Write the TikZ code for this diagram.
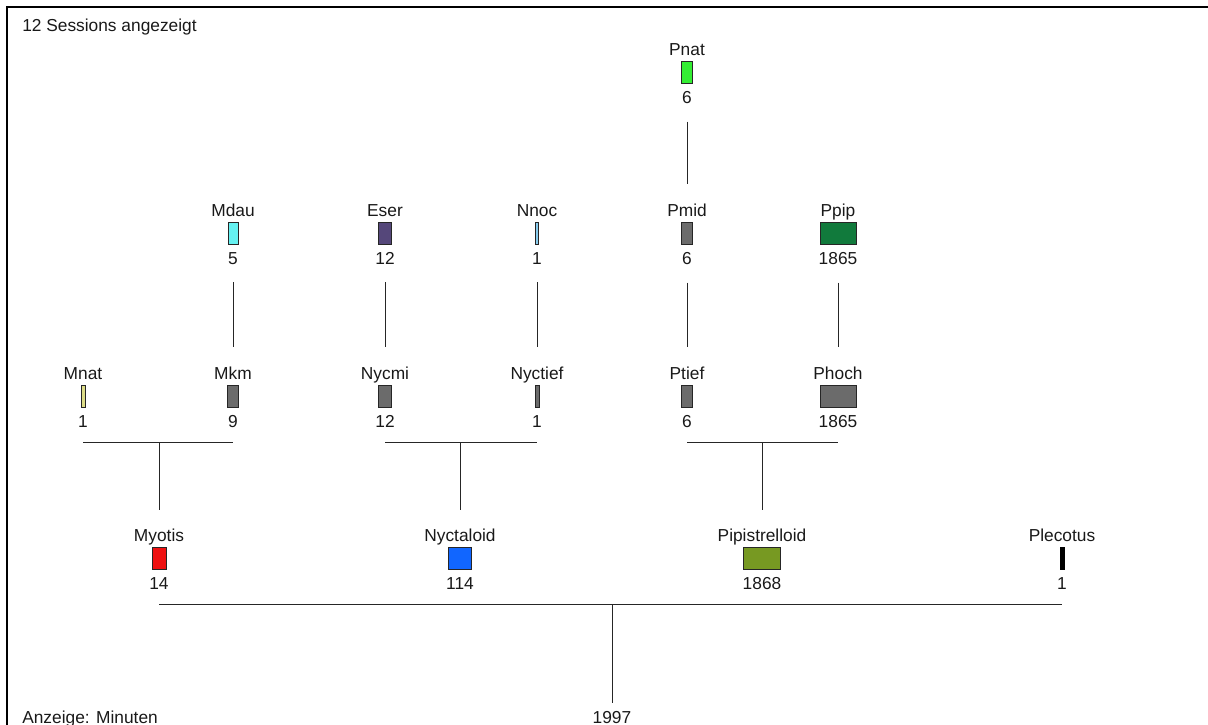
\documentclass[tikz,border=0pt]{standalone}
\usepackage{fontspec}
\setmainfont{Liberation Sans}
\usetikzlibrary{positioning,calc}

\definecolor{cpnat}{HTML}{33EE33}
\definecolor{cmdau}{HTML}{66F2F2}
\definecolor{ceser}{HTML}{55477A}
\definecolor{cnnoc}{HTML}{88CCEE}
\definecolor{cgrey}{HTML}{6B6B6B}
\definecolor{cppip}{HTML}{117A3C}
\definecolor{cmnat}{HTML}{DDDD88}
\definecolor{cmyo}{HTML}{EE1111}
\definecolor{cnyc}{HTML}{1166FF}
\definecolor{cpip}{HTML}{779922}

\tikzstyle{sp} = [rectangle, draw=black!85, line width=0.6pt, inner sep=0pt,
    minimum height=16.5pt]
\tikzstyle{nm} = [inner sep=0pt, text depth=0pt, text=black!90,
    font=\fontsize{13}{15}\selectfont]
\tikzstyle{cnt} = [inner sep=0pt, text=black!90, font=\fontsize{13}{15}\selectfont]
\tikzstyle{link} = [draw=black!85, line width=0.75pt]

\begin{document}
\begin{tikzpicture}[x=0.75pt,y=-0.75pt]
  \useasboundingbox (0,0) rectangle (1208,725);
  \draw[line width=1.2pt] (7,725) -- (7,7) -- (1208,7);

  \node[nm, anchor=base west] (title) at (22,31) {12 Sessions angezeigt};
  \node[nm, anchor=base west] (unit) at (22,723) {Anzeige: Minuten};

  % top
  \node[sp, fill=cpnat, minimum width=8.25pt] (pnat) at (687,72) {};
  \node[nm]  (pnat-l) [above=3.5pt of pnat] {Pnat};
  \node[cnt] (pnat-n) [below=6pt of pnat] {6};

  % second row
  \node[sp, fill=cmdau, minimum width=7.5pt]  (mdau) at (233,233) {};
  \node[sp, fill=ceser, minimum width=9.75pt] (eser) at (385,233) {};
  \node[sp, fill=cnnoc, minimum width=2.25pt] (nnoc) at (537,233) {};
  \node[sp, fill=cgrey, minimum width=8.25pt] (pmid) at (687,233) {};
  \node[sp, fill=cppip, minimum width=27pt]   (ppip) at (838,233) {};
  \node[nm] (mdau-l) [above=3.5pt of mdau] {Mdau};
  \node[nm] (eser-l) [above=3.5pt of eser] {Eser};
  \node[nm] (nnoc-l) [above=3.5pt of nnoc] {Nnoc};
  \node[nm] (pmid-l) [above=3.5pt of pmid] {Pmid};
  \node[nm] (ppip-l) [above=3.5pt of ppip] {Ppip};
  \node[cnt] (mdau-n) [below=6pt of mdau] {5};
  \node[cnt] (eser-n) [below=6pt of eser] {12};
  \node[cnt] (nnoc-n) [below=6pt of nnoc] {1};
  \node[cnt] (pmid-n) [below=6pt of pmid] {6};
  \node[cnt] (ppip-n) [below=6pt of ppip] {1865};

  % third row
  \node[sp, fill=cmnat, minimum width=3pt]    (mnat) at (83,396) {};
  \node[sp, fill=cgrey, minimum width=8.25pt] (mkm) at (233,396) {};
  \node[sp, fill=cgrey, minimum width=9.75pt] (nycmi) at (385,396) {};
  \node[sp, fill=cgrey, minimum width=3pt]    (nyctief) at (537,396) {};
  \node[sp, fill=cgrey, minimum width=8.25pt] (ptief) at (687,396) {};
  \node[sp, fill=cgrey, minimum width=27pt]   (phoch) at (838,396) {};
  \node[nm] (mnat-l) [above=3.5pt of mnat] {Mnat};
  \node[nm] (mkm-l) [above=3.5pt of mkm] {Mkm};
  \node[nm] (nycmi-l) [above=3.5pt of nycmi] {Nycmi};
  \node[nm] (nyctief-l) [above=3.5pt of nyctief] {Nyctief};
  \node[nm] (ptief-l) [above=3.5pt of ptief] {Ptief};
  \node[nm] (phoch-l) [above=3.5pt of phoch] {Phoch};
  \node[cnt] (mnat-n) [below=6pt of mnat] {1};
  \node[cnt] (mkm-n) [below=6pt of mkm] {9};
  \node[cnt] (nycmi-n) [below=6pt of nycmi] {12};
  \node[cnt] (nyctief-n) [below=6pt of nyctief] {1};
  \node[cnt] (ptief-n) [below=6pt of ptief] {6};
  \node[cnt] (phoch-n) [below=6pt of phoch] {1865};

  % groups
  \node[sp, fill=cmyo, minimum width=10.5pt]  (myotis) at (159,558) {};
  \node[sp, fill=cnyc, minimum width=17.25pt] (nyctaloid) at (460,558) {};
  \node[sp, fill=cpip, minimum width=27.75pt] (pipi) at (762,558) {};
  \node[sp, fill=black, draw=black, minimum width=3pt] (plecotus) at (1062,558) {};
  \node[nm] (myotis-l) [above=3.5pt of myotis] {Myotis};
  \node[nm] (nyctaloid-l) [above=3.5pt of nyctaloid] {Nyctaloid};
  \node[nm] (pipi-l) [above=3.5pt of pipi] {Pipistrelloid};
  \node[nm] (plecotus-l) [above=3.5pt of plecotus] {Plecotus};
  \node[cnt] (myotis-n) [below=6pt of myotis] {14};
  \node[cnt] (nyctaloid-n) [below=6pt of nyctaloid] {114};
  \node[cnt] (pipi-n) [below=6pt of pipi] {1868};
  \node[cnt] (plecotus-n) [below=6pt of plecotus] {1};

  \node[cnt, anchor=base] (root) at (612,723) {1997};

  % straight links
  \path[link, shorten <=13pt, shorten >=15pt]
    (pnat-n) edge (pmid-l)
    (mdau-n) edge (mkm-l)
    (eser-n) edge (nycmi-l)
    (nnoc-n) edge (nyctief-l)
    (pmid-n) edge (ptief-l)
    (ppip-n) edge (phoch-l);

  % bars
  \coordinate (b3) at ($(mkm-n.south)+(0,14)$);
  \coordinate (b4) at ($(myotis-n.south)+(0,15)$);
  \draw[link] (mnat-n |- b3) -- (mkm-n |- b3);
  \draw[link] (nycmi-n |- b3) -- (nyctief-n |- b3);
  \draw[link] (ptief-n |- b3) -- (phoch-n |- b3);
  \draw[link, shorten >=14.5pt] (myotis |- b3) -- (myotis-l);
  \draw[link, shorten >=14.5pt] (nyctaloid |- b3) -- (nyctaloid-l);
  \draw[link, shorten >=14.5pt] (pipi |- b3) -- (pipi-l);
  \draw[link] (myotis-n |- b4) -- (plecotus-n |- b4);
  \draw[link, shorten >=5.7pt] (root |- b4) -- (root);
\end{tikzpicture}
\end{document}
